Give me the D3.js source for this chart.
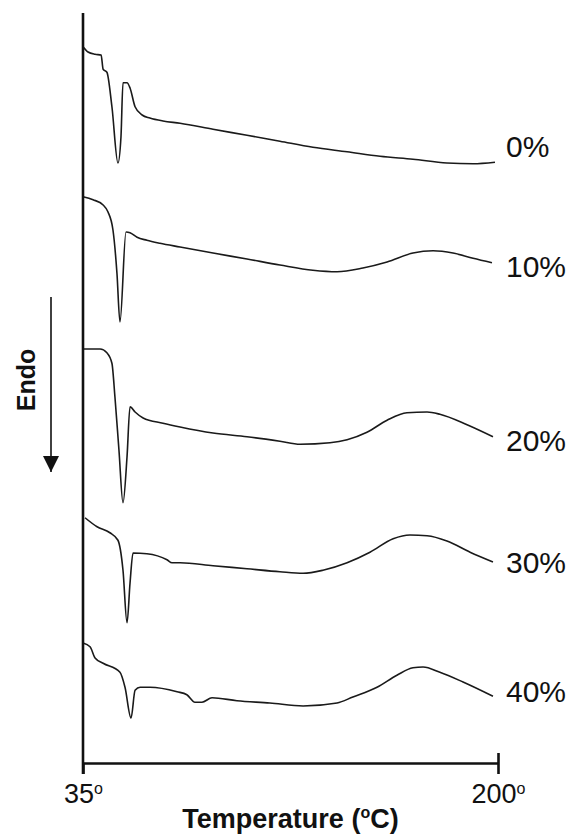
<!DOCTYPE html>
<html>
<head>
<meta charset="utf-8">
<script src="https://cdn.jsdelivr.net/npm/d3@7"></script>
<style>
  body { margin: 0; background: #fff; }
  svg { display: block; }
</style>
</head>
<body>
<div id="chart"></div>
<script>
// DSC traces, heat flow in arbitrary units (curves stacked), temperature in degC
const seriesLabels = ['0%', '10%', '20%', '30%', '40%'];

const temp0 = [35.0, 37.0, 39.8, 42.2, 43.0, 44.5, 46.5, 48.9, 50.1, 50.9, 52.5, 53.7, 55.7, 58.5, 61.6, 66.8, 73.6, 86.7, 100.2, 113.3, 126.4, 140.0, 153.1, 166.2, 179.7, 190.1, 198.8];
const flow0 = [95.5, 94.8, 94.5, 94.4, 92.5, 92.1, 87.5, 80.0, 83.5, 90.7, 90.7, 90.0, 87.5, 86.4, 86.0, 85.6, 85.3, 84.5, 83.7, 82.9, 82.1, 81.5, 80.9, 80.5, 80.0, 79.9, 80.1];

const temp10 = [35.0, 39.0, 43.0, 44.9, 46.9, 48.5, 49.7, 52.1, 53.7, 56.5, 60.4, 65.6, 73.6, 86.7, 100.2, 113.3, 126.4, 136.0, 146.3, 155.9, 166.2, 174.2, 182.1, 190.1, 197.6];
const flow10 = [75.5, 75.1, 74.4, 73.5, 71.1, 65.3, 58.8, 70.8, 70.7, 70.1, 69.7, 69.3, 68.8, 68.0, 67.2, 66.4, 65.7, 65.5, 66.0, 66.8, 68.0, 68.3, 68.0, 67.3, 66.7];

const temp20 = [35.0, 41.8, 44.5, 46.5, 47.7, 49.3, 50.9, 52.5, 53.7, 55.7, 58.9, 66.8, 73.6, 86.7, 100.2, 113.3, 121.3, 133.2, 140.0, 147.9, 155.9, 163.8, 171.8, 176.9, 187.7, 198.0];
const flow20 = [55.2, 55.2, 54.7, 53.3, 48.8, 41.7, 34.7, 40.8, 47.5, 46.8, 46.0, 45.3, 44.8, 44.0, 43.5, 42.9, 42.5, 42.7, 43.1, 44.1, 45.7, 46.7, 46.8, 46.5, 45.1, 43.5];

const temp30 = [35.8, 40.6, 45.7, 48.9, 50.9, 52.5, 53.7, 54.9, 60.4, 68.4, 70.4, 73.6, 86.7, 100.2, 113.3, 122.5, 130.4, 140.0, 149.1, 158.3, 165.0, 171.8, 179.7, 188.9, 198.0];
const flow30 = [32.7, 31.5, 30.7, 29.7, 25.7, 18.7, 24.0, 28.0, 27.9, 27.1, 26.7, 26.7, 26.3, 25.9, 25.5, 25.3, 25.7, 26.7, 28.1, 29.9, 30.4, 30.3, 29.6, 28.1, 26.8];

const temp40 = [35.0, 37.8, 39.8, 43.0, 49.7, 51.7, 54.1, 55.7, 57.7, 61.6, 72.4, 76.3, 79.5, 82.3, 86.3, 96.2, 109.3, 122.5, 136.0, 142.3, 151.9, 159.8, 166.2, 170.2, 176.9, 186.1, 198.0];
const flow40 = [16.0, 15.5, 14.0, 13.3, 12.1, 10.1, 6.0, 9.7, 10.1, 10.1, 9.5, 9.1, 8.1, 8.1, 8.7, 8.3, 8.0, 7.6, 8.0, 8.8, 10.1, 11.7, 12.7, 12.8, 12.1, 10.8, 8.9];

const xTicks = [35, 200];

const temps = [temp0, temp10, temp20, temp30, temp40];
const flows = [flow0, flow10, flow20, flow30, flow40];

// layout
const svgWidth = 572, svgHeight = 838;
const margin = {top: 13, left: 83};
const width = 415, height = 750;
const labelBaselines = [157, 277, 451, 573, 702];

const svg = d3.select('#chart').append('svg')
    .attr('width', svgWidth)
    .attr('height', svgHeight);

const g = svg.append('g')
    .attr('transform', `translate(${margin.left},${margin.top})`);

const x = d3.scaleLinear().domain([35, 200]).range([0, width]);
const y = d3.scaleLinear().domain([0, 100]).range([height, 0]);

const line = d3.line()
    .x(d => x(d[0]))
    .y(d => y(d[1]))
    .curve(d3.curveMonotoneX);

seriesLabels.forEach((lab, i) => {
    const pts = temps[i].map((t, j) => [t, flows[i][j]]);
    g.append('path')
        .datum(pts)
        .attr('fill', 'none')
        .attr('stroke', '#1a1a1a')
        .attr('stroke-width', 1.6)
        .attr('stroke-linejoin', 'round')
        .attr('d', line);
    svg.append('text')
        .attr('x', 506)
        .attr('y', labelBaselines[i])
        .attr('font-family', 'Liberation Sans, Arial, sans-serif')
        .attr('font-size', 30)
        .attr('fill', '#111')
        .text(lab);
});

// y axis: plain line, running a little below the x axis
g.append('line')
    .attr('x1', x(35)).attr('x2', x(35))
    .attr('y1', 0).attr('y2', height + 11)
    .attr('stroke', '#111').attr('stroke-width', 2.6);

// x axis
const xAxis = g.append('g')
    .attr('transform', `translate(0,${height})`)
    .call(d3.axisBottom(x).tickValues(xTicks).tickSizeOuter(0).tickSizeInner(11).tickFormat(d => d));
xAxis.select('.domain').attr('stroke', '#111').attr('stroke-width', 2.6);
xAxis.selectAll('.tick line').attr('stroke', '#111').attr('stroke-width', 2.6)
    .attr('y1', d => d === 200 ? -10 : 0);
xAxis.selectAll('.tick text').each(function(d) {
    const t = d3.select(this);
    t.text(null)
        .attr('y', 40)
        .attr('dy', null)
        .attr('font-family', 'Liberation Sans, Arial, sans-serif')
        .attr('font-size', 27)
        .attr('fill', '#111');
    t.append('tspan').text(d);
    t.append('tspan').attr('font-size', 16).attr('dy', -9).text('o');
});

// x axis title
const title = svg.append('text')
    .attr('x', margin.left + width / 2)
    .attr('y', 828)
    .attr('text-anchor', 'middle')
    .attr('font-family', 'Liberation Sans, Arial, sans-serif')
    .attr('font-weight', 'bold')
    .attr('font-size', 27)
    .attr('fill', '#111');
title.append('tspan').text('Temperature (');
title.append('tspan').attr('font-size', 16).attr('dy', -10).text('o');
title.append('tspan').attr('dy', 10).text('C)');

// Endo arrow
svg.append('defs').append('marker')
    .attr('id', 'arrowhead')
    .attr('viewBox', '0 0 10 10')
    .attr('refX', 10).attr('refY', 5)
    .attr('markerWidth', 16).attr('markerHeight', 16)
    .attr('markerUnits', 'userSpaceOnUse')
    .attr('orient', 'auto')
    .append('path')
    .attr('d', 'M0,0L10,5L0,10Z')
    .attr('fill', '#111');

svg.append('line')
    .attr('x1', 51).attr('x2', 51)
    .attr('y1', 297).attr('y2', 472)
    .attr('stroke', '#111').attr('stroke-width', 1.6)
    .attr('marker-end', 'url(#arrowhead)');

svg.append('text')
    .attr('transform', 'translate(35,380) rotate(-90)')
    .attr('text-anchor', 'middle')
    .attr('font-family', 'Liberation Sans, Arial, sans-serif')
    .attr('font-weight', 'bold')
    .attr('font-size', 25)
    .attr('fill', '#111')
    .text('Endo');
</script>
</body>
</html>
